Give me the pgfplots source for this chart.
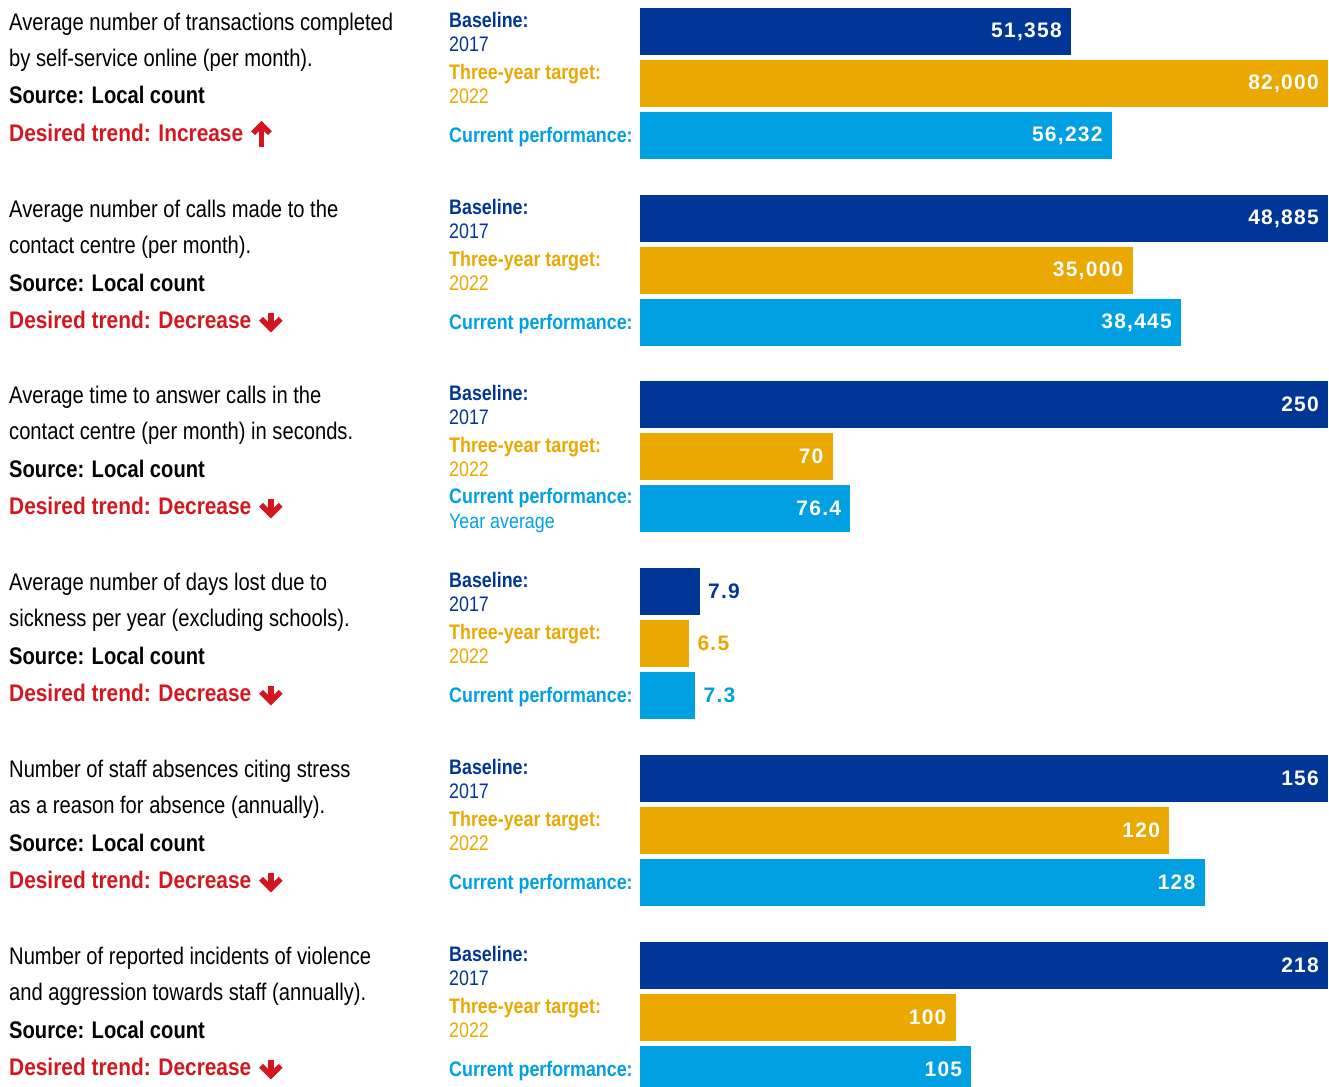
\documentclass[border=0pt]{standalone}
\usepackage{pgfplots}
\pgfplotsset{compat=1.18}
\usepackage{fontspec}
\setmainfont{Liberation Sans}[FakeStretch=0.84]
\newfontfamily\trendfont{Liberation Sans}[FakeStretch=0.87]
\newfontfamily\midfont{Liberation Sans}[FakeStretch=0.85]
\newfontfamily\numfont{Liberation Sans}[LetterSpace=6]
\definecolor{cdark}{HTML}{003797}
\definecolor{cgold}{HTML}{EAA800}
\definecolor{clight}{HTML}{00A0E3}
\definecolor{cred}{HTML}{D4171E}

\newcommand{\uparr}{\tikz[baseline=0pt,x=1pt,y=1pt]{\draw[cred,line width=5.5pt] (0,-5.3)--(0,15); \draw[cred,line width=5.5pt,miter limit=10] (-8.5,8.3)--(0,16.8)--(8.5,8.3);}}
\newcommand{\downarr}{\tikz[baseline=0pt,x=1pt,y=1pt]{\draw[cred,line width=5.5pt] (0,16)--(0,1); \draw[cred,line width=5.5pt,miter limit=10] (-9.8,9.7)--(0,-0.1)--(9.8,9.7);}}

% #1 offset, #2 line1, #3 line2, #4 trend word, #5 arrow
\newcommand{\leftblock}[5]{%
  \node[anchor=base west,inner sep=0pt] at (9,{#1+30.5}) {\fontsize{24}{28}\selectfont #2};
  \node[anchor=base west,inner sep=0pt] at (9,{#1+66.5}) {\fontsize{24}{28}\selectfont #3};
  \node[anchor=base west,inner sep=0pt] at (9,{#1+104}) {\fontsize{24}{28}\selectfont\bfseries Source: Local count};
  \node[anchor=base west,inner sep=0pt,text=cred] at (9,{#1+141.5}) {\trendfont\fontsize{24}{28}\selectfont\bfseries Desired trend: #4\hspace{7pt}#5};
}
\newcommand{\midtop}[1]{%
  \node[anchor=base west,inner sep=0pt,text=cdark] at (449,{#1+27.3}) {\midfont\fontsize{21}{24}\selectfont\bfseries Baseline:};
  \node[anchor=base west,inner sep=0pt,text=cdark] at (449,{#1+51.7}) {\midfont\fontsize{21}{24}\selectfont 2017};
  \node[anchor=base west,inner sep=0pt,text=cgold] at (449,{#1+79.5}) {\midfont\fontsize{21}{24}\selectfont\bfseries Three-year target:};
  \node[anchor=base west,inner sep=0pt,text=cgold] at (449,{#1+103.3}) {\midfont\fontsize{21}{24}\selectfont 2022};
}
\newcommand{\midcur}[1]{%
  \node[anchor=base west,inner sep=0pt,text=clight] at (449,{#1+142.5}) {\midfont\fontsize{21}{24}\selectfont\bfseries Current performance:};
}

\pgfplotsset{
  grp/.style={anchor=north west, scale only axis, width=688pt, height=156pt,
    xmin=0, ymin=-0.5, ymax=2.5, y dir=reverse, hide axis, clip=false,
    xbar, bar shift=0pt, bar width=0.894,
    every axis plot/.append style={draw=none, bar shift=0pt},
    point meta=explicit symbolic, nodes near coords,
    nodes near coords style={anchor=east, xshift=-9pt, inner sep=0pt, text=white,
      font=\numfont\bfseries\fontsize{21}{21}\selectfont}},
}

\begin{document}
\begin{tikzpicture}
\path[use as bounding box] (0,0) rectangle (1329pt,-1086pt);
\clip (0,0) rectangle (1329pt,-1086pt);

\begin{scope}[x=1pt,y=-1pt]
\leftblock{0}{Average number of transactions completed}{by self-service online (per month).}{Increase}{\uparr}
\leftblock{187}{Average number of calls made to the}{contact centre (per month).}{Decrease}{\downarr}
\leftblock{373}{Average time to answer calls in the}{contact centre (per month) in seconds.}{Decrease}{\downarr}
\leftblock{560}{Average number of days lost due to}{sickness per year (excluding schools).}{Decrease}{\downarr}
\leftblock{747}{Number of staff absences citing stress}{as a reason for absence (annually).}{Decrease}{\downarr}
\leftblock{934}{Number of reported incidents of violence}{and aggression towards staff (annually).}{Decrease}{\downarr}

\midtop{0}\midcur{0}
\midtop{187}\midcur{187}
\midtop{373}
\node[anchor=base west,inner sep=0pt,text=clight] at (449,{373+130.3}) {\midfont\fontsize{21}{24}\selectfont\bfseries Current performance:};
\node[anchor=base west,inner sep=0pt,text=clight] at (449,{373+155}) {\midfont\fontsize{21}{24}\selectfont Year average};
\midtop{560}\midcur{560}
\midtop{747}\midcur{747}
\midtop{934}\midcur{934}
\end{scope}

% Group 1
\begin{axis}[grp, at={(640pt,-5.5pt)}, xmax=82000]
\addplot[fill=cdark] coordinates {(51358,0) [{51,358}]};
\addplot[fill=cgold] coordinates {(82000,1) [{82,000}]};
\addplot[fill=clight] coordinates {(56232,2) [{56,232}]};
\end{axis}
% Group 2
\begin{axis}[grp, at={(640pt,-192.5pt)}, xmax=48885]
\addplot[fill=cdark] coordinates {(48885,0) [{48,885}]};
\addplot[fill=cgold] coordinates {(35000,1) [{35,000}]};
\addplot[fill=clight] coordinates {(38445,2) [{38,445}]};
\end{axis}
% Group 3
\begin{axis}[grp, at={(640pt,-378.5pt)}, xmax=250]
\addplot[fill=cdark] coordinates {(250,0) [250]};
\addplot[fill=cgold] coordinates {(70,1) [70]};
\addplot[fill=clight] coordinates {(76.4,2) [76.4]};
\end{axis}
% Group 4
\begin{axis}[grp, at={(640pt,-565.5pt)}, xmax=90.6,
  nodes near coords style={anchor=west, xshift=17pt}]
\addplot[fill=cdark, nodes near coords style={text=cdark}] coordinates {(7.9,0) [7.9]};
\addplot[fill=cgold, nodes near coords style={text=cgold}] coordinates {(6.5,1) [6.5]};
\addplot[fill=clight, nodes near coords style={text=clight}] coordinates {(7.3,2) [7.3]};
\end{axis}
% Group 5
\begin{axis}[grp, at={(640pt,-752.5pt)}, xmax=156]
\addplot[fill=cdark] coordinates {(156,0) [156]};
\addplot[fill=cgold] coordinates {(120,1) [120]};
\addplot[fill=clight] coordinates {(128,2) [128]};
\end{axis}
% Group 6
\begin{axis}[grp, at={(640pt,-939.5pt)}, xmax=218]
\addplot[fill=cdark] coordinates {(218,0) [218]};
\addplot[fill=cgold] coordinates {(100,1) [100]};
\addplot[fill=clight] coordinates {(105,2) [105]};
\end{axis}
\end{tikzpicture}
\end{document}
